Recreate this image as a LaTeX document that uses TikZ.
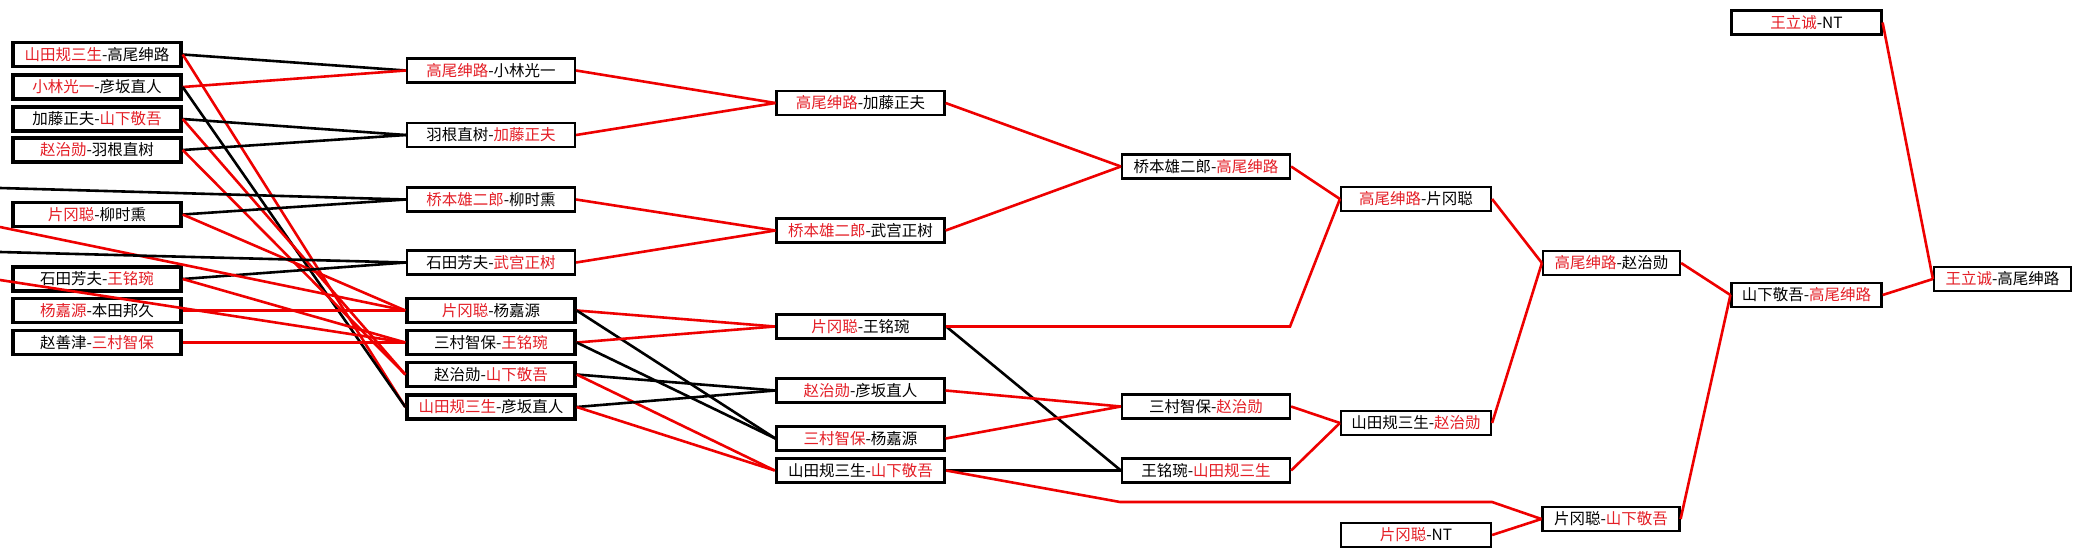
\documentclass[tikz,border=0pt]{standalone}
\usepackage{fontspec}
\setmainfont{Liberation Serif}
\newfontfamily\cjk{Noto Sans CJK SC}
\definecolor{nred}{RGB}{228,30,38}
\definecolor{lred}{RGB}{238,0,0}
\newcommand{\rn}[1]{\textcolor{nred}{#1}}
\begin{document}
\begin{tikzpicture}[x=1pt,y=-1pt,
  box/.style={draw=black, line width=2.2pt, fill=white, minimum height=24pt, inner sep=0pt,
    font=\cjk\fontsize{15.5}{15.5}\selectfont},
  tbox/.style={box, line width=3.4pt},
  w170/.style={minimum width=168pt},
  w152/.style={minimum width=150pt},
  w139/.style={minimum width=137pt},
  win/.style={draw=lred, line width=2.6pt},
  lose/.style={draw=black, line width=2.6pt}]
\useasboundingbox (0,0) rectangle (2082,557);
\fill[white] (0,0) rectangle (2082,557);

% column 1
\node[tbox,w170] (a1) at (97,54.5) {\rn{山田规三生}-高尾绅路};
\node[tbox,w170] (a2) at (97,87) {\rn{小林光一}-彦坂直人};
\node[tbox,w170] (a3) at (97,119) {加藤正夫-\rn{山下敬吾}};
\node[tbox,w170] (a4) at (97,150) {\rn{赵治勋}-羽根直树};
\node[tbox,w170] (a5) at (97,214.5) {\rn{片冈聪}-柳时熏};
\node[tbox,w170] (a6) at (97,279) {石田芳夫-\rn{王铭琬}};
\node[tbox,w170] (a7) at (97,310.5) {\rn{杨嘉源}-本田邦久};
\node[tbox,w170] (a8) at (97,342.5) {赵善津-\rn{三村智保}};

% column 2
\node[box,w170] (b1) at (491,70.5) {\rn{高尾绅路}-小林光一};
\node[box,w170] (b2) at (491,135) {羽根直树-\rn{加藤正夫}};
\node[box,w170] (b3) at (491,199.5) {\rn{桥本雄二郎}-柳时熏};
\node[box,w170] (b4) at (491,262.5) {石田芳夫-\rn{武宫正树}};
\node[tbox,w170] (b5) at (491,310.5) {\rn{片冈聪}-杨嘉源};
\node[tbox,w170] (b6) at (491,342.5) {三村智保-\rn{王铭琬}};
\node[tbox,w170] (b7) at (491,374.5) {赵治勋-\rn{山下敬吾}};
\node[tbox,w170] (b8) at (491,407) {\rn{山田规三生}-彦坂直人};

% column 3
\node[box,w170] (c1) at (860.5,103) {\rn{高尾绅路}-加藤正夫};
\node[box,w170] (c2) at (860.5,230.5) {\rn{桥本雄二郎}-武宫正树};
\node[tbox,w170] (c3) at (860.5,326.5) {\rn{片冈聪}-王铭琬};
\node[box,w170] (c4) at (860.5,390.5) {\rn{赵治勋}-彦坂直人};
\node[box,w170] (c5) at (860.5,438.5) {\rn{三村智保}-杨嘉源};
\node[tbox,w170] (c6) at (860.5,470.5) {山田规三生-\rn{山下敬吾}};

% column 4
\node[box,w170] (d1) at (1206,166.5) {桥本雄二郎-\rn{高尾绅路}};
\node[box,w170] (d2) at (1206,406.5) {三村智保-\rn{赵治勋}};
\node[box,w170] (d3) at (1206,470.5) {王铭琬-\rn{山田规三生}};

% column 5
\node[box,w152] (e1) at (1416,199) {\rn{高尾绅路}-片冈聪};
\node[box,w152] (e2) at (1416,423) {山田规三生-\rn{赵治勋}};
\node[box,w152] (e3) at (1416,535) {\rn{片冈聪}-NT};

% column 6
\node[box,w139] (f1) at (1611.5,263) {\rn{高尾绅路}-赵治勋};
\node[box,w139] (f2) at (1611,519) {片冈聪-\rn{山下敬吾}};

% column 7
\node[box,w152] (g0) at (1806.5,22.5) {\rn{王立诚}-NT};
\node[box,w152] (g1) at (1806.5,295) {山下敬吾-\rn{高尾绅路}};

% final
\node[box,w139] (h1) at (2002.5,279) {\rn{王立诚}-高尾绅路};

% free ends at the left edge
\coordinate (l1) at (0,188);
\coordinate (l2) at (0,227);
\coordinate (l3) at (0,252);
\coordinate (l4) at (0,280);
% bends
\coordinate (k1) at (1290,326.5);
\coordinate (k2) at (1120,502);
\coordinate (k3) at (1492,502);

% round 1 -> 2
\draw[lose] (a1.east) -- (b1.west);
\draw[win]  (a1.east) -- (b8.west);
\draw[win]  (a2.east) -- (b1.west);
\draw[lose] (a2.east) -- (b8.west);
\draw[lose] (a3.east) -- (b2.west);
\draw[win]  (a3.east) -- (b7.west);
\draw[lose] (a4.east) -- (b2.west);
\draw[win]  (a4.east) -- (b7.west);
\draw[lose] (a5.east) -- (b3.west);
\draw[win]  (a5.east) -- (b5.west);
\draw[lose] (a6.east) -- (b4.west);
\draw[win]  (a6.east) -- (b6.west);
\draw[win]  (a7.east) -- (b5.west);
\draw[win]  (a8.east) -- (b6.west);
\draw[lose] (l1) -- (b3.west);
\draw[win]  (l2) -- (b5.west);
\draw[lose] (l3) -- (b4.west);
\draw[win]  (l4) -- (b6.west);

% round 2 -> 3
\draw[win]  (b1.east) -- (c1.west);
\draw[win]  (b2.east) -- (c1.west);
\draw[win]  (b3.east) -- (c2.west);
\draw[win]  (b4.east) -- (c2.west);
\draw[win]  (b5.east) -- (c3.west);
\draw[lose] (b5.east) -- (c5.west);
\draw[win]  (b6.east) -- (c3.west);
\draw[lose] (b6.east) -- (c5.west);
\draw[lose] (b7.east) -- (c4.west);
\draw[win]  (b7.east) -- (c6.west);
\draw[lose] (b8.east) -- (c4.west);
\draw[win]  (b8.east) -- (c6.west);

% round 3 -> 4
\draw[win]  (c1.east) -- (d1.west);
\draw[win]  (c2.east) -- (d1.west);
\draw[lose] (c3.east) -- (d3.west);
\draw[win]  (c3.east) -- (k1) -- (e1.west);
\draw[win]  (c4.east) -- (d2.west);
\draw[win]  (c5.east) -- (d2.west);
\draw[lose] (c6.east) -- (d3.west);
\draw[win]  (c6.east) -- (k2) -- (k3) -- (f2.west);

% later rounds
\draw[win] (d1.east) -- (e1.west);
\draw[win] (d2.east) -- (e2.west);
\draw[win] (d3.east) -- (e2.west);
\draw[win] (e1.east) -- (f1.west);
\draw[win] (e2.east) -- (f1.west);
\draw[win] (e3.east) -- (f2.west);
\draw[win] (f1.east) -- (g1.west);
\draw[win] (f2.east) -- (g1.west);
\draw[win] (g0.east) -- (h1.west);
\draw[win] (g1.east) -- (h1.west);
\end{tikzpicture}
\end{document}
